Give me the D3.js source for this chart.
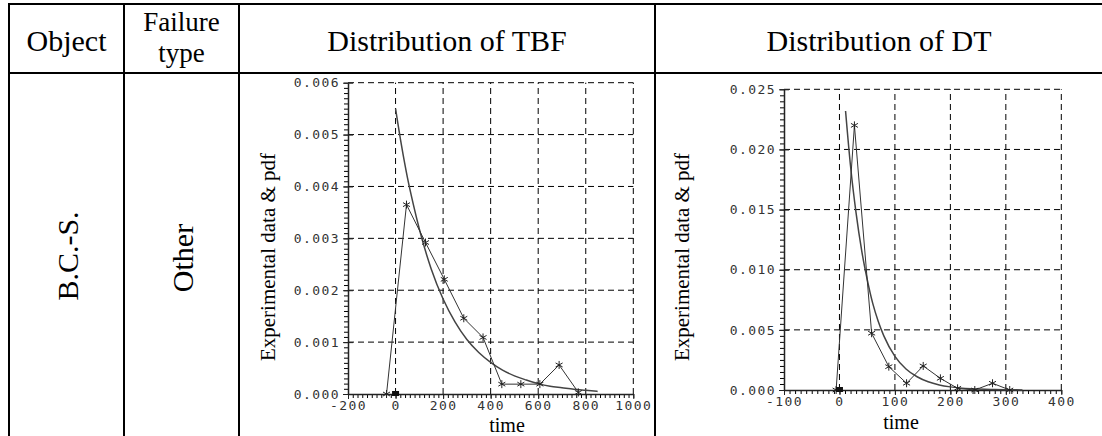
<!DOCTYPE html>
<html>
<head>
<meta charset="utf-8">
<script src="https://cdn.jsdelivr.net/npm/d3@7"></script>
<style>
  body { margin: 0; background: #fff; }
  svg { display: block; }
  .cell-text { font-family: "Liberation Serif", "Times New Roman", serif; fill: #000; }
  .tick text { font-family: "DejaVu Sans Mono", monospace; font-size: 13px; letter-spacing: 1.4px; fill: #333; }
</style>
</head>
<body>
<svg id="chart" width="1102" height="436"></svg>
<script>
// time between failures: experimental density (star markers)
const tbfTime    = [-38, 46, 126, 205, 287, 368, 447, 527, 607, 688, 769];
const tbfDensity = [0, 0.00365, 0.00292, 0.00221, 0.00146, 0.00109, 0.00019, 0.00019, 0.00019, 0.00056, 0.00003];
// fitted pdf for time between failures
const tbfFitTime = [0, 25, 50, 75, 100, 150, 200, 250, 300, 350, 400, 450, 500, 550, 600, 650, 700, 750, 800, 850];
const tbfFitPdf  = [0.0055, 0.00479, 0.00417, 0.00365, 0.00318, 0.00241, 0.00183, 0.00139, 0.00105, 0.00080,
                    0.00061, 0.00046, 0.00035, 0.00027, 0.00020, 0.00015, 0.00012, 0.00009, 0.00007, 0.00005];
const tbfXTicks = [-200, 0, 200, 400, 600, 800, 1000];
const tbfYTicks = [0, 0.001, 0.002, 0.003, 0.004, 0.005, 0.006];

// down time: experimental density
const dtTime    = [-6, 27, 58, 89, 121, 151, 182, 213, 244, 276, 307];
const dtDensity = [0, 0.0220, 0.00472, 0.00194, 0.00056, 0.0020, 0.00097, 0.00014, 0, 0.00056, 0];
// fitted pdf for down time
const dtFitTime = [11, 20, 30, 40, 50, 60, 70, 80, 100, 120, 140, 160, 180, 200, 240, 280, 330];
const dtFitPdf  = [0.0232, 0.0186, 0.0147, 0.0116, 0.0092, 0.0072, 0.0057, 0.0045, 0.0028, 0.00175,
                   0.0011, 0.00068, 0.00042, 0.00026, 0.0001, 0.00004, 0.00001];
const dtXTicks = [-100, 0, 100, 200, 300, 400];
const dtYTicks = [0, 0.005, 0.010, 0.015, 0.020, 0.025];

const headers = ["Object", "Failure type", "Distribution of TBF", "Distribution of DT"];
const objectName = "B.C.-S.";
const failureType = "Other";

const svg = d3.select("#chart");

// ---- table frame ----
const colX = [9, 124, 239, 655, 1103];
const topY = 4, headY = 73;
const frame = svg.append("g").attr("stroke", "#000").attr("stroke-width", 2);
frame.append("line").attr("x1", colX[0] - 1).attr("x2", 1102).attr("y1", topY).attr("y2", topY);
frame.append("line").attr("x1", colX[0] - 1).attr("x2", 1102).attr("y1", headY).attr("y2", headY);
colX.forEach(x => frame.append("line").attr("x1", x).attr("x2", x).attr("y1", topY).attr("y2", 436));

const mid = i => (colX[i] + colX[i + 1]) / 2;
const hdr = svg.append("g").attr("class", "cell-text").attr("font-size", 30).attr("text-anchor", "middle");
hdr.append("text").attr("x", mid(0)).attr("y", 51).text(headers[0]);
hdr.append("text").attr("x", mid(1)).attr("y", 31).attr("font-size", 27).text("Failure");
hdr.append("text").attr("x", mid(1)).attr("y", 62).attr("font-size", 27).text("type");
hdr.append("text").attr("x", mid(2)).attr("y", 51).text(headers[2]);
hdr.append("text").attr("x", mid(3)).attr("y", 51).text(headers[3]);

hdr.append("text").attr("transform", `translate(${mid(0) + 11},256) rotate(-90)`).text(objectName);
hdr.append("text").attr("transform", `translate(${mid(1) + 11},258) rotate(-90)`).text(failureType);

// ---- one density panel ----
function panel(opt) {
  const x = d3.scaleLinear().domain(opt.xDomain).range(opt.xRange);
  const y = d3.scaleLinear().domain(opt.yDomain).range(opt.yRange);
  const g = svg.append("g");
  const [x0, x1] = opt.xRange, [y0, y1] = opt.yRange;

  // dashed grid, top and right edges included
  const grid = g.append("g").attr("stroke", "#000").attr("stroke-width", 1).attr("stroke-dasharray", "6,4");
  grid.selectAll(".gx").data(opt.xTicks.slice(1)).join("line")
    .attr("x1", d => x(d)).attr("x2", d => x(d)).attr("y1", y0).attr("y2", y1);
  grid.selectAll(".gy").data(opt.yTicks.slice(1)).join("line")
    .attr("y1", d => y(d)).attr("y2", d => y(d)).attr("x1", x0).attr("x2", x1);

  // minor ticks
  g.append("g").attr("transform", `translate(0,${y0})`)
    .call(d3.axisBottom(x).tickValues(d3.range(opt.xDomain[0], opt.xDomain[1] + 1e-9, opt.xMinor)).tickSize(4).tickFormat("").tickSizeOuter(0))
    .call(a => a.select(".domain").remove());
  g.append("g").attr("transform", `translate(${x0},0)`)
    .call(d3.axisLeft(y).tickValues(d3.range(0, opt.yDomain[1] + 1e-9, opt.yMinor)).tickSize(4).tickFormat("").tickSizeOuter(0))
    .call(a => a.select(".domain").remove());

  // major ticks and labels
  const xa = g.append("g").attr("transform", `translate(0,${y0})`)
    .call(d3.axisBottom(x).tickValues(opt.xTicks).tickSize(5).tickSizeOuter(0).tickPadding(2).tickFormat(d3.format("d")));
  const ya = g.append("g").attr("transform", `translate(${x0},0)`)
    .call(d3.axisLeft(y).tickValues(opt.yTicks).tickSize(5).tickSizeOuter(0).tickPadding(3).tickFormat(d3.format(".3f")));
  ya.selectAll(".tick").append("line").attr("x2", 5).attr("stroke", "currentColor");
  [xa, ya].forEach(a => {
    a.attr("color", "#222");
    a.select(".domain").attr("stroke-width", 1.5);
    a.selectAll(".tick line").attr("stroke-width", 1);
  });
  // plain hyphen for negative labels
  xa.selectAll(".tick text").text(d => String(d));

  // fitted pdf
  g.append("path")
    .datum(opt.fitT.map((t, i) => [t, opt.fitP[i]]))
    .attr("fill", "none").attr("stroke", "#444").attr("stroke-width", 1.5)
    .attr("d", d3.line().x(d => x(d[0])).y(d => y(d[1])).curve(d3.curveMonotoneX));

  // experimental points
  const pts = opt.t.map((t, i) => [t, opt.p[i]]);
  g.append("path").datum(pts)
    .attr("fill", "none").attr("stroke", "#333").attr("stroke-width", 1)
    .attr("d", d3.line().x(d => x(d[0])).y(d => y(d[1])));
  g.selectAll(".star").data(pts).join("path")
    .attr("transform", d => `translate(${x(d[0])},${y(d[1])})`)
    .attr("d", "M0,-4V4M-3.5,-2L3.5,2M-3.5,2L3.5,-2")
    .attr("stroke", "#222").attr("stroke-width", 1).attr("fill", "none");

  // zero-origin marker
  g.append("rect")
    .attr("x", x(0) - 3.5).attr("y", y(0) - 3).attr("width", 7).attr("height", 5)
    .attr("fill", "#111");

  // axis titles
  g.append("text").attr("class", "cell-text").attr("font-size", 21).attr("text-anchor", "middle")
    .attr("transform", `translate(${opt.yTitleX},257) rotate(-90)`)
    .text("Experimental data & pdf");
  g.append("text").attr("class", "cell-text").attr("font-size", 20).attr("text-anchor", "middle")
    .attr("x", opt.xTitleX).attr("y", opt.xTitleY).text("time");
}

panel({
  xDomain: [-200, 1000], xRange: [348, 633.3], xTicks: tbfXTicks, xMinor: 20,
  yDomain: [0, 0.006], yRange: [394, 82.7], yTicks: tbfYTicks, yMinor: 0.0001,
  t: tbfTime, p: tbfDensity, fitT: tbfFitTime, fitP: tbfFitPdf,
  yTitleX: 275, xTitleX: 507, xTitleY: 431.5
});

panel({
  xDomain: [-100, 400], xRange: [784, 1061.3], xTicks: dtXTicks, xMinor: 10,
  yDomain: [0, 0.025], yRange: [390, 89.3], yTicks: dtYTicks, yMinor: 0.0005,
  t: dtTime, p: dtDensity, fitT: dtFitTime, fitP: dtFitPdf,
  yTitleX: 689, xTitleX: 901, xTitleY: 428.5
});
</script>
</body>
</html>
